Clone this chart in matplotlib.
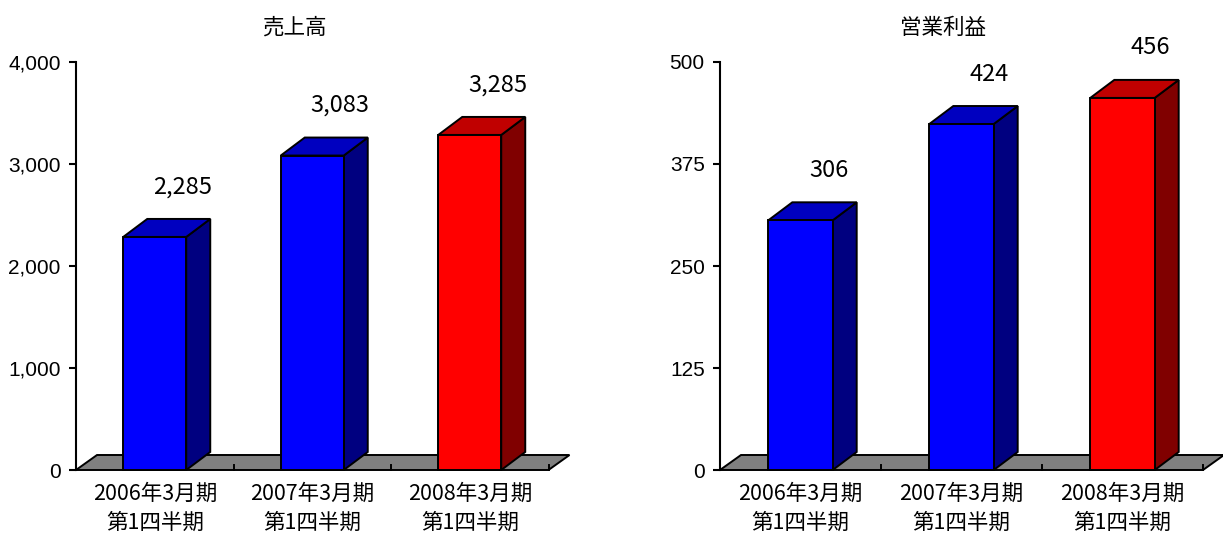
import matplotlib.pyplot as plt
from matplotlib.patches import Polygon

plt.rcParams['font.family'] = ['Noto Sans CJK JP', 'DejaVu Sans']

# data
categories = ['2006年3月期\n第1四半期', '2007年3月期\n第1四半期', '2008年3月期\n第1四半期']
sales = [2285, 3083, 3285]
profit = [306, 424, 456]
titles = ['売上高', '営業利益']
sales_ticks = [0, 1000, 2000, 3000, 4000]
profit_ticks = [0, 125, 250, 375, 500]

front_cols = ['#0000FF', '#0000FF', '#FF0000']
top_cols = ['#0000C0', '#0000C0', '#C00000']
side_cols = ['#000080', '#000080', '#800000']

W, H = 1223, 535
fig = plt.figure(figsize=(W / 100, H / 100), dpi=100)


def bar3d_panel(left_px, cat_px, vals, ticks, title, title_x):
    plot_h = 408
    ymax = ticks[-1]
    width_px = W - left_px if left_px + 510 > W else 500
    ax = fig.add_axes([left_px / W, 65 / H, width_px / W, plot_h / H])
    ax.set_xlim(0, width_px / cat_px)
    ax.set_ylim(0, ymax)

    # depth offsets (pixels -> data units)
    px_x = 1 / cat_px
    px_y = ymax / plot_h
    bdx, bdy = 24 * px_x, 18 * px_y
    fdx, fdy = 21 * px_x, 15 * px_y

    n = len(vals)
    floor = Polygon([(0, 0), (n, 0), (n + fdx, fdy), (fdx, fdy)], closed=True,
                    facecolor='#808080', edgecolor='black', lw=1.4, clip_on=False, zorder=1)
    ax.add_patch(floor)
    for k in range(1, n + 1):
        ax.plot([k, k], [0, 5 * px_y], color='black', lw=1.4, clip_on=False, zorder=1.5)

    bw = 0.4
    for i, v in enumerate(vals):
        c = i + 0.5
        l, r = c - bw / 2, c + bw / 2
        side = Polygon([(r, 0), (r + bdx, bdy), (r + bdx, v + bdy), (r, v)], closed=True,
                       facecolor=side_cols[i], edgecolor='black', lw=1.4, zorder=2, clip_on=False)
        top = Polygon([(l, v), (r, v), (r + bdx, v + bdy), (l + bdx, v + bdy)], closed=True,
                      facecolor=top_cols[i], edgecolor='black', lw=1.4, zorder=2, clip_on=False)
        front = Polygon([(l, 0), (r, 0), (r, v), (l, v)], closed=True,
                        facecolor=front_cols[i], edgecolor='black', lw=1.4, zorder=3, clip_on=False)
        for p in (side, top, front):
            ax.add_patch(p)
        ax.annotate(f'{v:,}', (c, v), xytext=(28, 50), textcoords='offset pixels',
                    ha='center', va='center', fontsize=17)

    for s in ('top', 'right', 'bottom'):
        ax.spines[s].set_visible(False)
    ax.spines['left'].set_linewidth(1.5)
    ax.set_yticks(ticks)
    ax.set_yticklabels([f'{t:,}' for t in ticks], family=['Liberation Sans'], fontsize=15)
    ax.tick_params(axis='y', direction='out', length=5, width=1.5, pad=6)
    ax.set_xticks([i + 0.5 for i in range(n)])
    ax.set_xticklabels(categories, fontsize=15.5, linespacing=1.45)
    ax.tick_params(axis='x', length=0, pad=9)

    fig.text(title_x / W, 1 - 28 / H, title, ha='center', va='center', fontsize=15.5)
    return ax


bar3d_panel(76, 157.5, sales, sales_ticks, titles[0], 294)
bar3d_panel(720, 161, profit, profit_ticks, titles[1], 943)

fig.savefig('out.png', dpi=100)
